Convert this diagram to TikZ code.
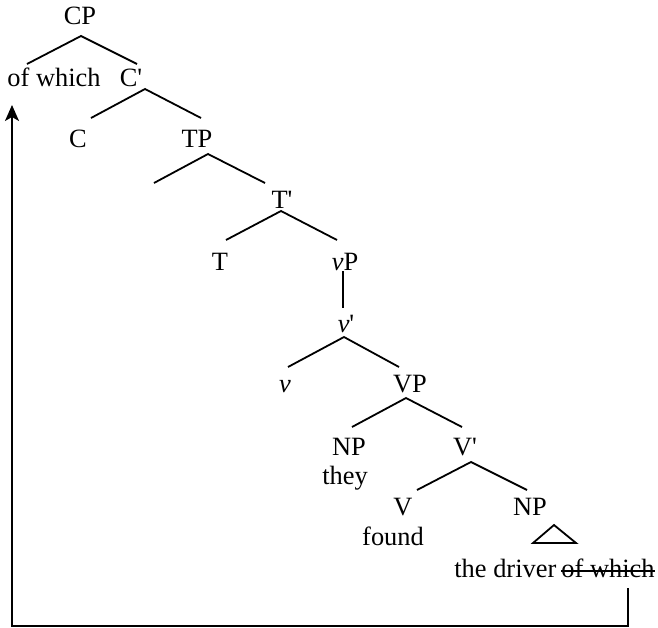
\documentclass[tikz,border=0pt]{standalone}
\usepackage{fontspec}
\setmainfont{Liberation Serif}
\usetikzlibrary{arrows.meta}
\begin{document}
\begin{tikzpicture}[x=0.5pt,y=-0.5pt,
  lab/.style={inner sep=0pt, anchor=base, font=\fontsize{13.2}{15}\selectfont},
  branch/.style={line width=0.9pt},
  mv/.style={line width=0.9pt, -{Stealth[length=8pt,width=7pt,inset=2pt]}}]
\useasboundingbox (0,0) rectangle (658,627);
% labels
\node[lab] (CP) at (80,24) {CP};
\node[lab] (ofw) at (54,86) {of which};
\node[lab] (Cbar) at (131,86) {C\textquotesingle};
\node[lab] (C) at (78,147) {C};
\node[lab] (TP) at (197,147) {TP};
\node[lab] (Tbar) at (282,208) {T\textquotesingle};
\node[lab] (T) at (220,270) {T};
\node[lab] (vP) at (345,270) {\textit{v}P};
\node[lab] (vbar) at (346,332) {\textit{v}\textquotesingle};
\node[lab] (v) at (285,392) {\textit{v}};
\node[lab] (VP) at (410,392) {VP};
\node[lab] (NPa) at (349,455) {NP};
\node[lab] (they) at (345,484) {they};
\node[lab] (Vbar) at (465,455) {V\textquotesingle};
\node[lab] (V) at (403,515) {V};
\node[lab] (found) at (393,545) {found};
\node[lab] (NPb) at (530,515) {NP};
\node[lab, anchor=base west] (drv) at (454,577) {the driver};
\node[lab, anchor=base east] (ow) at (655,577) {of which};
% branch points
\coordinate (aCP) at (81,36);   \coordinate (lCP) at (27,64);   \coordinate (rCP) at (137,64);
\coordinate (aC) at (145,89);   \coordinate (lC) at (91,118);   \coordinate (rC) at (201,118);
\coordinate (aTP) at (208,154); \coordinate (lTP) at (154,183); \coordinate (rTP) at (265,183);
\coordinate (aT) at (281,211);  \coordinate (lT) at (226,240);  \coordinate (rT) at (337,240);
\coordinate (avP) at (343,271); \coordinate (bvP) at (343,308);
\coordinate (av) at (344,337);  \coordinate (lv) at (288,367);  \coordinate (rv) at (399,367);
\coordinate (aVP) at (406,398); \coordinate (lVP) at (352,427); \coordinate (rVP) at (462,427);
\coordinate (aV) at (471,462);  \coordinate (lV) at (417,490);  \coordinate (rV) at (527,490);
\coordinate (tA) at (554,525);  \coordinate (tL) at (533,543);  \coordinate (tR) at (576,543);
\draw[branch] (lCP) -- (aCP) -- (rCP);
\draw[branch] (lC) -- (aC) -- (rC);
\draw[branch] (lTP) -- (aTP) -- (rTP);
\draw[branch] (lT) -- (aT) -- (rT);
\draw[branch] (avP) -- (bvP);
\draw[branch] (lv) -- (av) -- (rv);
\draw[branch] (lVP) -- (aVP) -- (rVP);
\draw[branch] (lV) -- (aV) -- (rV);
\draw[branch] (tA) -- (tL) -- (tR) -- cycle;
% strike-through
\draw[line width=0.7pt] ([yshift=3pt]ow.base west) -- ([yshift=3pt]ow.base east);
% movement arrow
\coordinate (src) at (628,588);
\coordinate (corner) at (12,626);
\coordinate (tgt) at (12,105);
\draw[mv] (src) |- (corner) -- (tgt);
\end{tikzpicture}
\end{document}
